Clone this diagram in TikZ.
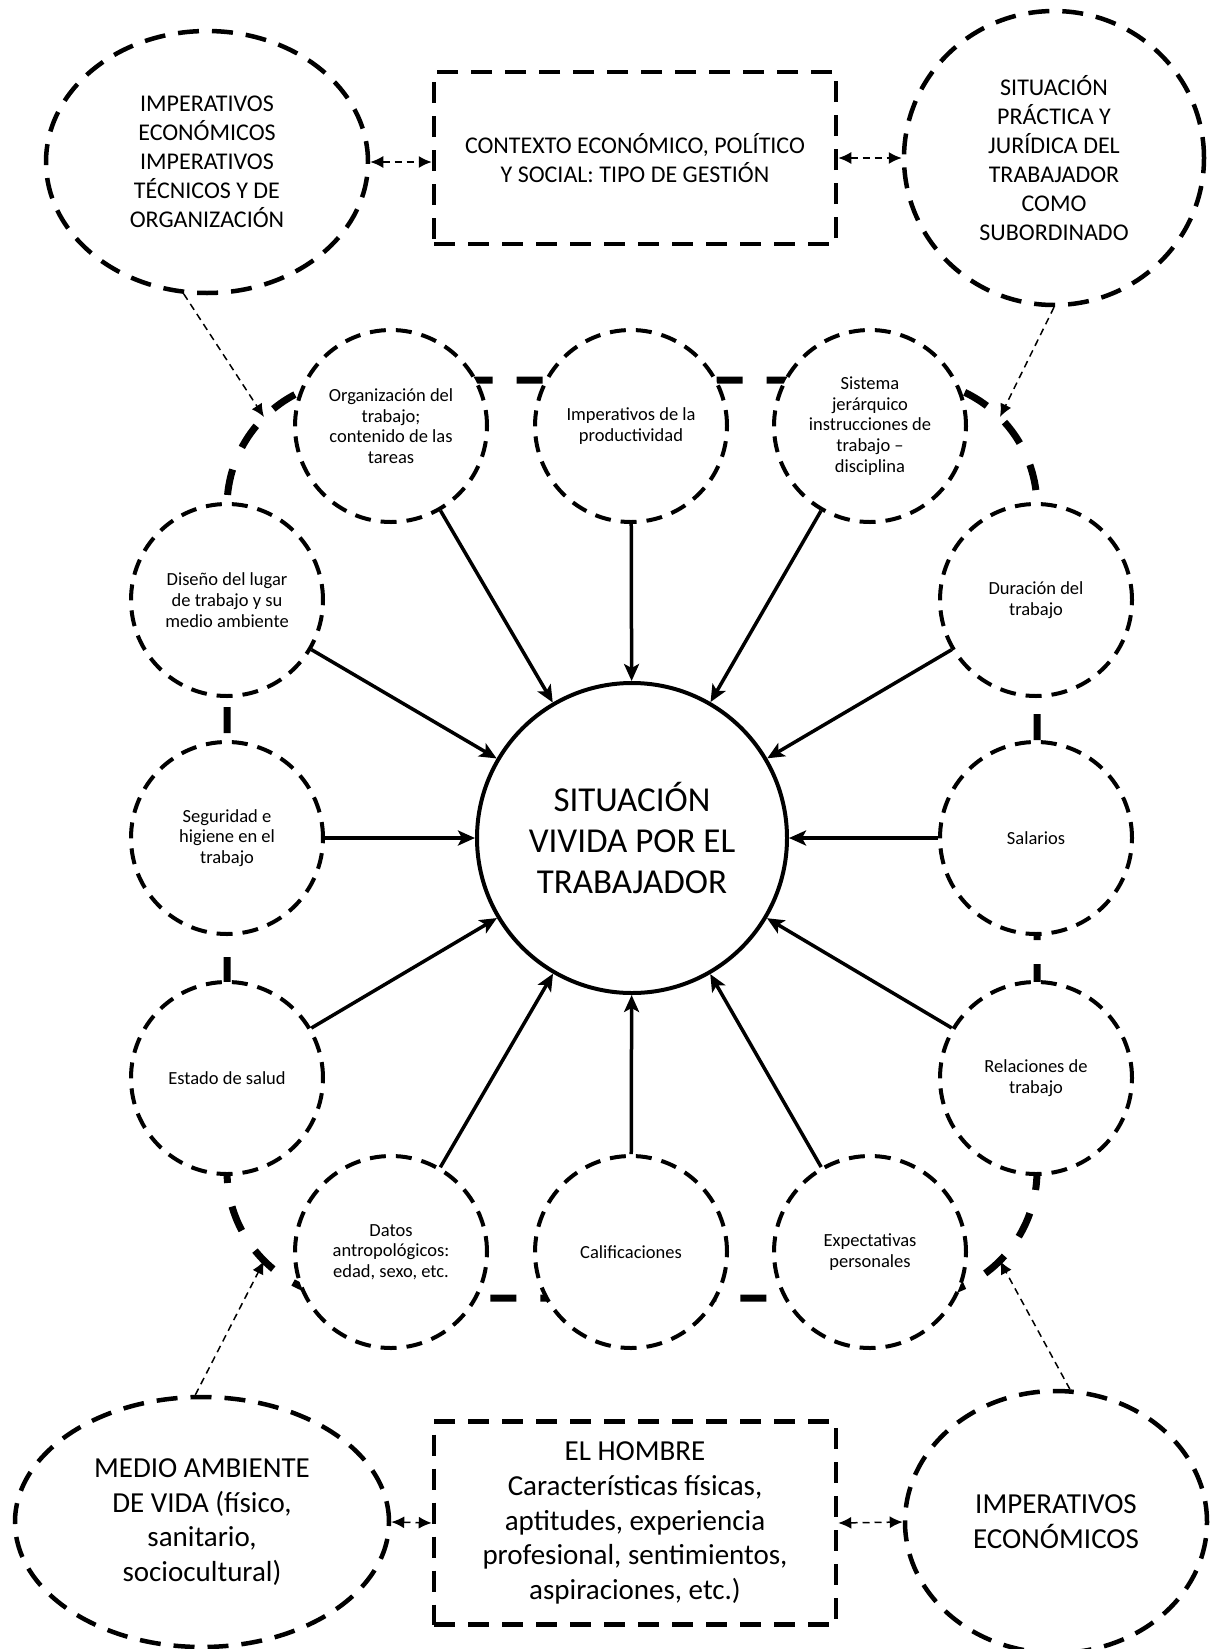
\documentclass[tikz,border=0pt]{standalone}
\usepackage{fontspec}
\setmainfont{Carlito}
\usetikzlibrary{arrows.meta,shapes.geometric}

\begin{document}
\begin{tikzpicture}[x=1pt,y=-1pt,
	outer/.style={draw, line width=4.5pt, dash pattern=on 21pt off 13pt, align=center, inner sep=0pt},
	oval/.style={outer, ellipse},
	box/.style={outer, rectangle},
	factor/.style={draw, circle, fill=white, line width=4pt, dash pattern=on 16pt off 10pt, minimum size=192pt, align=center, inner sep=0pt, font=\fontsize{18.5}{20.7}\selectfont},
	push/.style={line width=3.5pt, -{Stealth[length=17pt,width=15pt,inset=4pt]}},
	link/.style={line width=1.5pt, dash pattern=on 7pt off 5pt, -{Latex[length=13pt,width=12pt]}},
	twoway/.style={link, {Latex[length=13pt,width=12pt]}-{Latex[length=13pt,width=12pt]}}
	]
	\fill[white] (0,0) rectangle (1221,1649);
	\useasboundingbox (0,0) rectangle (1221,1649);
	
	% outer frame round the factors
	\draw[line width=7pt, dash pattern=on 26pt off 24pt, rounded corners=127pt] (227,380) rectangle (1037,1298);
	\coordinate (cTL) at (264,417);
	\coordinate (cTR) at (1000,417);
	\coordinate (cBL) at (264,1261);
	\coordinate (cBR) at (1000,1261);
	
	% top row
	\node[oval, minimum width=322pt, minimum height=262pt, font=\fontsize{24}{29}\selectfont] (econ) at (207,162) {IMPERATIVOS\\ECONÓMICOS\\IMPERATIVOS\\TÉCNICOS Y DE\\ORGANIZACIÓN};
	\node[box, minimum width=402pt, minimum height=172pt, font=\fontsize{24}{28.4}\selectfont] (ctx) at (635,158) {CONTEXTO ECONÓMICO, POLÍTICO\\Y SOCIAL: TIPO DE GESTIÓN};
	\node[oval, minimum width=300pt, minimum height=294pt, font=\fontsize{24}{29}\selectfont] (legal) at (1054,158) {SITUACIÓN\\PRÁCTICA Y\\JURÍDICA DEL\\TRABAJADOR\\COMO\\SUBORDINADO};
	
	% centre
	\node[draw, circle, line width=4pt, minimum size=310pt, align=center, inner sep=0pt, font=\fontsize{35}{41}\selectfont] (sit) at (632,838) {SITUACIÓN\\VIVIDA POR EL\\TRABAJADOR};
	
	% factors
	\node[factor] (org) at (391,426) {Organización del\\trabajo;\\contenido de las\\tareas};
	\node[factor] (prod) at (631,426) {Imperativos de la\\productividad};
	\node[factor] (jer) at (870,426) {Sistema\\jerárquico\\instrucciones de\\trabajo –\\disciplina};
	\node[factor] (lugar) at (227,600) {Diseño del lugar\\de trabajo y su\\medio ambiente};
	\node[factor] (dur) at (1036,600) {Duración del\\trabajo};
	\node[factor] (seg) at (227,838) {Seguridad e\\higiene en el\\trabajo};
	\node[factor] (sal) at (1036,838) {Salarios};
	\node[factor] (salud) at (227,1078) {Estado de salud};
	\node[factor] (rel) at (1036,1078) {Relaciones de\\trabajo};
	\node[factor] (datos) at (391,1252) {Datos\\antropológicos:\\edad, sexo, etc.};
	\node[factor] (calif) at (631,1252) {Calificaciones};
	\node[factor] (expec) at (870,1252) {Expectativas\\personales};
	
	\draw[push] (org) -- (sit);
	\draw[push] (prod) -- (sit);
	\draw[push] (jer) -- (sit);
	\draw[push] (lugar) -- (sit);
	\draw[push] (dur) -- (sit);
	\draw[push] (seg) -- (sit);
	\draw[push] (sal) -- (sit);
	\draw[push] (salud) -- (sit);
	\draw[push] (rel) -- (sit);
	\draw[push] (datos) -- (sit);
	\draw[push] (calif) -- (sit);
	\draw[push] (expec) -- (sit);
	
	% bottom row
	\node[oval, minimum width=374pt, minimum height=250pt, font=\fontsize{29}{34.7}\selectfont] (vida) at (202,1522) {MEDIO AMBIENTE\\DE VIDA (físico,\\sanitario,\\sociocultural)};
	\node[box, minimum width=402pt, minimum height=203pt, font=\fontsize{29}{34.7}\selectfont] (hombre) at (635,1523) {EL HOMBRE\\Características físicas,\\aptitudes, experiencia\\profesional, sentimientos,\\aspiraciones, etc.)};
	\node[oval, minimum width=302pt, minimum height=262pt, font=\fontsize{29}{34.7}\selectfont] (econ2) at (1056,1522) {IMPERATIVOS\\ECONÓMICOS};
	
	% dashed links
	\draw[twoway] (econ.east) -- (ctx.west |- econ.east);
	\draw[twoway] (ctx.east |- legal.west) -- (legal.west);
	\draw[twoway] (vida.east) -- (hombre.west);
	\draw[twoway] (hombre.east) -- (econ2.west);
	\draw[link] (econ.-100) -- (cTL);
	\draw[link] (legal.-90) -- (cTR);
	\draw[link] (vida.93) -- (cBL);
	\draw[link] (econ2.84) -- (cBR);
\end{tikzpicture}
\end{document}
